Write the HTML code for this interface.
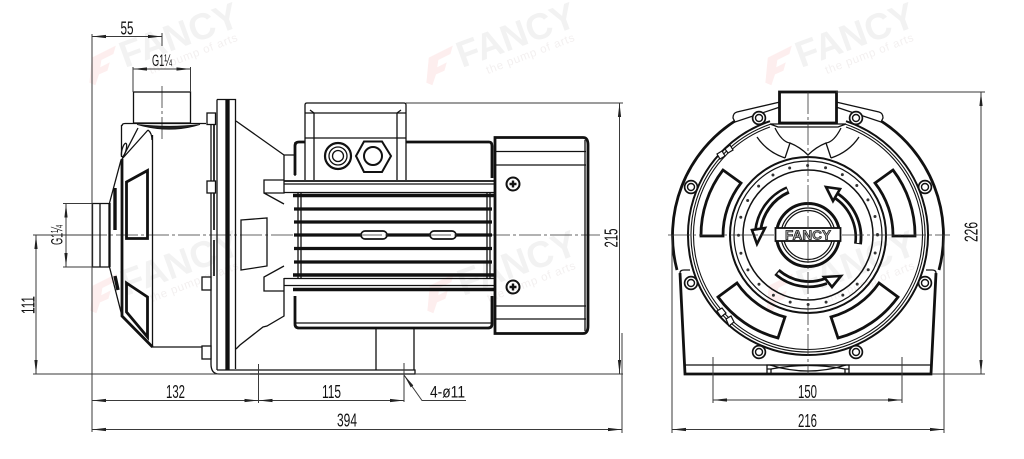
<!DOCTYPE html>
<html><head><meta charset="utf-8"><style>
html,body{margin:0;padding:0;background:#fff}
svg{display:block}
text{font-family:"Liberation Sans",sans-serif;font-size:18px;fill:#111}
.d{stroke:#3a3a3a;stroke-width:1;fill:none}
.c{stroke:#333;stroke-width:.8;fill:none;stroke-dasharray:22 3 3 3}
.k{stroke:#111;stroke-width:1.3;fill:none}
.t{stroke:#111;stroke-width:2.8;fill:none}
.h{stroke:#111;stroke-width:3.4;fill:none}
</style></head><body>
<svg width="1024" height="459" viewBox="0 0 1024 459" xmlns="http://www.w3.org/2000/svg">
<defs>
<marker id="a" viewBox="0 0 14 4" refX="14" refY="2" markerWidth="14" markerHeight="4" markerUnits="userSpaceOnUse" orient="auto-start-reverse"><path d="M0,.4L14,2L0,3.6Z" fill="#222"/></marker>
<g id="wm">
<path d="M-6,-2L14,-12L12,-5L2,0L1,6L9,2L7,9L0,12L-3,21L-8,19Z" fill="#fdeeee" transform="translate(-26,-8) scale(1.2)"/>
<text transform="rotate(-20)" x="0" y="0" textLength="124" lengthAdjust="spacingAndGlyphs" style="font-size:37px;font-weight:bold;fill:#f2f2f2">FANCY</text>
<text transform="rotate(-21) translate(22,15)" style="font-size:11.5px;letter-spacing:.7px;fill:#f3f0f0">the pump of arts</text>
</g>
<g id="bolt"><circle r="6.4" fill="#fff" stroke="#111" stroke-width="1.7"/><circle r="3.5" fill="none" stroke="#111" stroke-width="1.4"/></g>
</defs>
<rect width="1024" height="459" fill="#fff"/>
<use href="#wm" x="125" y="68"/><use href="#wm" x="462" y="68"/><use href="#wm" x="801" y="68"/>
<use href="#wm" x="126" y="296"/><use href="#wm" x="463" y="296"/><use href="#wm" x="802" y="296"/>

<!-- LEFT VIEW -->
<path class="c" d="M85,235H600M162,86V141"/>
<rect class="k" x="133.500" y="92" width="57" height="31"/>
<path class="k" d="M122,126Q122,123.500 125,123.500H206M152,140Q152,133 148,130M138,128L122,159M148,130L122,159"/>
<path d="M137,124.500Q170,134 200,124.500Q170,128 137,124.500Z" fill="#222" stroke="#111" stroke-width=".8"/>
<path class="k" d="M152.500,135V347H202M121.500,125V157"/>
<path class="t" d="M122,159V316L152.500,347" stroke-width="1.700"/>
<ellipse class="k" cx="124" cy="150" rx="2" ry="7" transform="rotate(15 124 150)"/>
<path class="t" d="M126.500,182L147.500,170.500V238.500H126.500Z" stroke-width="2.200"/>
<path class="t" d="M126.500,283L147.500,297V337L126.500,312Z" stroke-width="2.200"/>
<path class="k" d="M92.500,203.500H109V267H92.500ZM100,203.500V267"/>
<path class="k" d="M109.500,203L121,160M109.500,267L122,316"/>
<path class="h" d="M115,188V230M115,276L118,290"/>
<path class="k" d="M110,203V267"/>
<!-- flange -->
<path class="k" d="M217,99.500H235.500V369M217,99.500V370M226,99.500V370M229,99.500V370"/>
<path class="k" d="M211,125V364Q211,374 219,374H415V370H217"/>
<path stroke="#111" stroke-width="1.700" fill="none" d="M214,125V230M214,240V276"/>
<path stroke="#111" stroke-width="2.600" fill="none" d="M227.500,99.500V370"/>
<g><rect x="207" y="113" width="8.500" height="11.500" fill="#fff" class="k" style="fill:#fff"/><rect x="207" y="181" width="8.500" height="12" class="k" style="fill:#fff"/><rect x="202" y="277" width="9" height="13" class="k" style="fill:#fff"/><rect x="202" y="346" width="9" height="13" class="k" style="fill:#fff"/></g>
<path class="k" d="M241,220L267,218V266L241,270Z"/>
<path class="k" d="M236,121L284,155H294M284,155V181M264,180H284V193H264ZM264,193L284,204M284,266L264,277V291H284M284,278V316L267,326L263,327L240,345L236,349"/>
<path class="k" d="M295,142V176"/>
<!-- motor -->
<path class="t" d="M295,175V146Q295,142 299,142H305M406,142H489Q492,142 492,146V178" stroke-width="2"/>
<path class="t" d="M295,296V324Q295,328 299,328H488Q492,328 492,324V296" stroke-width="2"/>
<path class="k" d="M296,323H491"/>
<path class="k" d="M305,180V105Q305,103 307,103H404Q406,103 406,105V180M305,113H406M305,138H406M314,113V180M397,113V180"/>
<path class="k" d="M314,113L310,110M397,113L401,110"/>
<path stroke="#111" stroke-width="1.700" fill="none" d="M284,181H494"/>
<path class="k" d="M284,184H494M284,192.500H494M284,278.500H494M284,285.500H494"/>
<g stroke="#111" fill="none">
<path stroke-width="3.400" d="M293,195.500H494M293,275H494M293,289.500H494"/>
<path stroke-width="3.200" d="M294,209H492M294,222H492M294,235H492M294,248.500H492M294,262H492"/>
</g>
<path class="k" d="M298,193V278M301,193V278M487,193V278M490,193V278"/>
<rect x="361" y="231" width="26" height="8" rx="4" fill="#fff" stroke="#111" stroke-width="1.700"/>
<rect x="430" y="231" width="26" height="8" rx="4" fill="#fff" stroke="#111" stroke-width="1.700"/>
<path class="c" d="M360,235H388M429,235H457"/>
<g fill="none" stroke="#111"><circle cx="338" cy="156" r="13" stroke-width="2.200"/><circle cx="338" cy="156" r="9" stroke-width="1.300"/><circle cx="338" cy="156" r="5.500" stroke-width="1.300"/></g>
<path d="M356,156L364,141.500H382L391,156L382,172H364Z" fill="#fff" stroke="#111" stroke-width="2"/>
<circle cx="373" cy="156" r="9" fill="none" stroke="#111" stroke-width="2"/>
<path class="t" d="M495,137.500H583Q588,137.500 588,145V326Q588,333.500 583,333.500H495Z" stroke-width="1.600"/>
<path class="k" d="M495,151.500H586M495,165H586M495,306H586M495,319H586M585,140V331"/>
<g fill="none" stroke="#111"><circle cx="513" cy="184" r="6.500" stroke-width="2"/><circle cx="513" cy="287" r="6.500" stroke-width="2"/></g>
<path d="M509.500,184H516.500M513,180.500V187.500M509.500,287H516.500M513,283.500V290.500" stroke="#111" stroke-width="2.400"/>
<path class="k" d="M376,328V370M414,328V370"/>

<!-- left dims -->
<path class="d" d="M92,34V432M162,33V46M133,67V92M190.500,67V92"/>
<path class="d" d="M92,36.500H162" marker-start="url(#a)" marker-end="url(#a)"/>
<path class="d" d="M133,69H190.500" marker-start="url(#a)" marker-end="url(#a)"/>
<text x="120.500" y="34.500" textLength="13" lengthAdjust="spacingAndGlyphs">55</text>
<text x="152" y="66" textLength="20" lengthAdjust="spacingAndGlyphs" style="font-size:17px">G1¼</text>
<path class="d" d="M63,203.500H92M63,267H92"/>
<path class="d" d="M66,203.500V267" marker-start="url(#a)" marker-end="url(#a)"/>
<text transform="translate(62.500,235) rotate(-90)" text-anchor="middle" style="font-size:17px" textLength="20" lengthAdjust="spacingAndGlyphs">G1¼</text>
<path class="d" d="M33,235H92M33,374H250"/>
<path class="d" d="M36,235V374" marker-start="url(#a)" marker-end="url(#a)"/>
<text transform="translate(34.500,305) rotate(-90)" text-anchor="middle" textLength="18" lengthAdjust="spacingAndGlyphs">111</text>
<path class="d" d="M258.500,364V403M404,363V402"/>
<path class="d" d="M92,400.500H258.500" marker-start="url(#a)" marker-end="url(#a)"/>
<path class="d" d="M258.500,400.500H404" marker-start="url(#a)" marker-end="url(#a)"/>
<text x="166" y="398" textLength="19" lengthAdjust="spacingAndGlyphs">132</text>
<text x="322" y="398" textLength="19" lengthAdjust="spacingAndGlyphs">115</text>
<path class="d" d="M466,400.500H422L404,375" marker-end="url(#a)"/>
<text x="430" y="397.500" textLength="35" lengthAdjust="spacingAndGlyphs" style="font-size:17px">4-ø11</text>
<path class="d" d="M92,429.500H622" marker-start="url(#a)" marker-end="url(#a)"/>
<path class="d" d="M622,333V433M406,103H623M415,374H623"/>
<path class="d" d="M619.500,103V374" marker-start="url(#a)" marker-end="url(#a)"/>
<text transform="translate(617.500,238) rotate(-90)" text-anchor="middle" textLength="19" lengthAdjust="spacingAndGlyphs">215</text>
<text x="337" y="426.500" textLength="20" lengthAdjust="spacingAndGlyphs">394</text>

<!-- RIGHT VIEW -->
<path class="t" d="M735,121A136,136 0 0 0 677,270M881,121A136,136 0 0 1 939,270" stroke-width="2.100"/>
<path class="k" d="M780,102L737,112Q733,113 733,118L735,122L780,107M836,102L879,112Q883,113 883,118L881,122L836,107"/>
<path d="M770,121.200A120,120 0 1 0 846,121.200" fill="none" stroke="#111" stroke-width="2"/>
<path d="M770,124.400A117,117 0 1 0 846,124.400" fill="none" stroke="#111" stroke-width="1.100"/>
<path d="M770,127A114.500,114.500 0 1 0 846,127" fill="none" stroke="#111" stroke-width="1.100"/>
<path d="M717,154L722,151L725,156L720,159ZM725,149L730,145L733,150L728,153ZM717,311L722,308L726,313L721,317ZM726,319L731,316L734,322L729,326Z" fill="#fff" stroke="#111" stroke-width="1.200"/>
<path class="k" d="M680,273Q680,270 684,270H690M936,273Q936,270 932,270H926"/>
<path class="t" d="M680,273L685,374H931L936,273" stroke-width="1.700"/>
<path class="k" d="M685,365H931"/>
<path class="k" d="M767,374V365H849V374M771,374V369Q808,362 845,369V374M767,369H772M844,369H849"/>
<path class="k" d="M770,365Q808,377 846,365"/>
<rect class="t" x="779.500" y="92" width="57" height="31" fill="#fff" stroke-width="1.800"/>
<path d="M770,124H846L838,127H778Z" fill="#fff" stroke="#111" stroke-width="1.300"/>
<path class="k" d="M775,128Q782,142 790,143Q800,147 808,155Q816,147 826,143Q834,142 841,128M757,137Q767,152 785,158M859,137Q849,152 831,158M790,143L785,158M826,143L831,158"/>
<use href="#bolt" x="759" y="118"/><use href="#bolt" x="856" y="118"/>
<use href="#bolt" x="691" y="187"/><use href="#bolt" x="925" y="187"/>
<use href="#bolt" x="691" y="283"/><use href="#bolt" x="925" y="283"/>
<use href="#bolt" x="759" y="352"/><use href="#bolt" x="856" y="352"/>
<path class="t" d="M701,236A107,107 0 0 1 723,170L741,183A85,85 0 0 0 723,236Z"/>
<path class="t" d="M915,236A107,107 0 0 0 893,170L875,183A85,85 0 0 1 893,236Z"/>
<path class="t" d="M718,297L737,283A85,85 0 0 0 785,317L778,338A108,108 0 0 1 718,297Z"/>
<path class="t" d="M898,297L879,283A85,85 0 0 1 831,317L838,338A108,108 0 0 0 898,297Z"/>
<g fill="none" stroke="#111">
<circle cx="808" cy="235" r="78" stroke-width="2"/>
<circle cx="808" cy="235" r="74" stroke-width="1.200"/>
<circle cx="808" cy="235" r="65" stroke-width="1.500"/>
<circle cx="808" cy="235" r="69.500" stroke-width="3" stroke-linecap="round" pathLength="24" stroke-dasharray="0 1" stroke="#333"/>
</g>
<!-- arrows -->
<g fill="none">
<path d="M788,190A50,50 0 0 0 758,231" stroke="#111" stroke-width="8"/><path d="M787,190A50,50 0 0 0 758,231" stroke="#fff" stroke-width="2.500"/>
<path d="M752,230L765,228L757,244Z" fill="#fff" stroke="#111" stroke-width="2.600"/>
<path d="M858,244A50,50 0 0 0 835,195" stroke="#111" stroke-width="8"/><path d="M858,243A50,50 0 0 0 835,195" stroke="#fff" stroke-width="2.500"/>
<path d="M826,187L840,189L833,201Z" fill="#fff" stroke="#111" stroke-width="2.600"/>
<path d="M777,272A48,48 0 0 0 826,281" stroke="#111" stroke-width="8"/><path d="M778,273A48,48 0 0 0 826,281" stroke="#fff" stroke-width="2.500"/>
<path d="M841,276L824,277L832,287Z" fill="#fff" stroke="#111" stroke-width="2.600"/>
</g>
<!-- hub -->
<circle cx="808" cy="235" r="31.500" fill="#fff" stroke="#111" stroke-width="3"/>
<circle cx="808" cy="235" r="27" fill="none" stroke="#111" stroke-width="1.200"/>
<circle cx="808" cy="235" r="24.500" fill="none" stroke="#111" stroke-width="1.200"/>
<rect x="775.500" y="228" width="65" height="13" fill="#fff" stroke="#111" stroke-width="1.800"/>
<text x="808" y="239.500" text-anchor="middle" textLength="46" lengthAdjust="spacingAndGlyphs" style="font-size:13px;font-weight:bold;fill:#aaa;stroke:#111;stroke-width:.7">FANCY</text>
<path class="c" d="M668,235H774M842,235H950M808,92V228M808,241V374"/>
<!-- right dims -->
<path class="d" d="M672,235V433M944,235V433M713,357V403M902,357V403"/>
<path class="d" d="M713,400H902" marker-start="url(#a)" marker-end="url(#a)"/>
<path class="d" d="M672,429.500H944" marker-start="url(#a)" marker-end="url(#a)"/>
<text x="798" y="398" textLength="19" lengthAdjust="spacingAndGlyphs">150</text>
<text x="798" y="427" textLength="19" lengthAdjust="spacingAndGlyphs">216</text>
<path class="d" d="M836,92H985M932,374H985"/>
<path class="d" d="M981,92V374" marker-start="url(#a)" marker-end="url(#a)"/>
<text transform="translate(977.500,232) rotate(-90)" text-anchor="middle" textLength="20" lengthAdjust="spacingAndGlyphs">226</text>
</svg>
</body></html>
